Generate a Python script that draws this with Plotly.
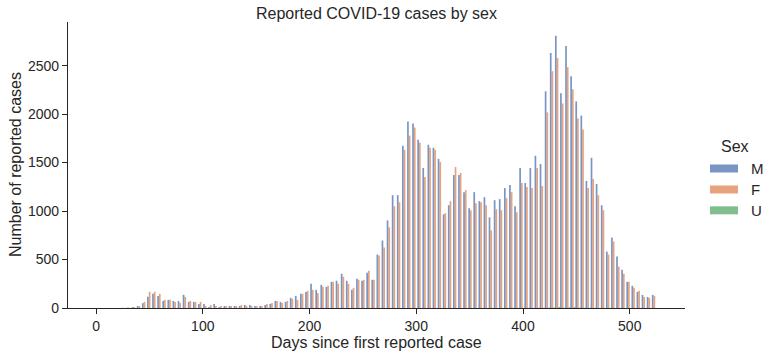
import plotly.graph_objects as go

# ---- data (histogram counts per bin, 110 bins over days 0..525.5) ----
day_max = 525.5
n_bins = 110

male_counts = [
    0, 0, 0, 0, 1, 2, 4, 10, 20, 50,
    115, 146, 125, 73, 84, 73, 73, 136, 63, 63,
    42, 42, 10, 42, 10, 21, 21, 21, 21, 31,
    31, 21, 21, 31, 42, 73, 63, 63, 104, 125,
    146, 166, 250, 187, 239, 218, 270, 281, 353, 281,
    187, 301, 281, 364, 291, 551, 696, 904, 1164, 1164,
    1674, 1923, 1902, 1736, 1445, 1684, 1653, 1538, 967, 1060,
    1372, 1372, 1195, 1029, 1195, 1102, 1143, 935, 1112, 1123,
    1237, 1268, 1050, 1445, 1289, 1445, 1570, 1486, 2235, 2630,
    2807, 2214, 2703, 2391, 2131, 1985, 1310, 1549, 1279, 1060,
    582, 728, 530, 395, 270, 229, 166, 135, 114, 135,
]

female_counts = [
    0, 0, 0, 0, 0, 1, 3, 10, 20, 64,
    167, 167, 146, 84, 84, 63, 52, 115, 73, 63,
    63, 21, 31, 21, 21, 21, 21, 21, 31, 21,
    21, 21, 21, 42, 52, 73, 52, 73, 94, 83,
    146, 177, 187, 156, 218, 229, 270, 250, 322, 250,
    208, 291, 291, 385, 291, 541, 624, 832, 1050, 1091,
    1632, 1778, 1861, 1705, 1351, 1653, 1632, 1507, 977, 1102,
    1455, 1393, 1216, 1008, 1081, 1091, 1060, 800, 1019, 1008,
    1133, 1195, 988, 1289, 1247, 1237, 1445, 1258, 2017, 2443,
    2578, 2110, 2484, 2256, 1954, 1840, 1237, 1331, 1164, 1008,
    551, 686, 426, 353, 270, 208, 177, 114, 104, 125,
]

unknown_counts = [0] * 80 + [
    1, 1, 2, 2, 2, 1, 3, 2, 3, 5,
    10, 4, 6, 10, 4, 3, 2, 2, 1, 1,
    1, 1, 0, 0, 0, 0, 0, 0, 0, 0,
]

sexes = ["M", "F", "U"]
series = [male_counts, female_counts, unknown_counts]
colors = ["rgba(76,114,176,0.75)", "rgba(221,132,82,0.75)", "rgba(85,168,104,0.75)"]

y_ticks = [0, 500, 1000, 1500, 2000, 2500]
x_ticks = [0, 100, 200, 300, 400, 500]

bin_w = day_max / n_bins
bin_left = [k * bin_w for k in range(n_bins)]

fig = go.Figure()
for i, (name, vals, col) in enumerate(zip(sexes, series, colors)):
    fig.add_trace(go.Bar(
        x=bin_left, y=vals, name=name,
        width=bin_w / 3, offset=i * bin_w / 3,
        marker=dict(color=col, line=dict(width=0)),
        showlegend=False,
    ))

font_fam = "Liberation Sans, Arial, sans-serif"
txt = "#262626"

W, H = 773, 358
L, R, T, B = 68, 88, 22, 50
PW, PH = W - L - R, H - T - B


def fx(x):  # pixel x -> plot-domain paper fraction
    return (x - L) / PW


def fy(y):  # pixel y -> plot-domain paper fraction
    return (H - B - y) / PH


fig.update_layout(
    width=W, height=H,
    margin=dict(l=L, r=R, t=T, b=B, autoexpand=False),
    paper_bgcolor="white", plot_bgcolor="white",
    barmode="overlay",
    font=dict(family=font_fam, size=14, color=txt),
)

margin_x = day_max * 0.05
fig.update_xaxes(
    range=[-margin_x, day_max + margin_x],
    tickvals=x_ticks, ticks="outside", ticklen=5, tickwidth=1.25, tickcolor=txt,
    showline=True, linecolor=txt, linewidth=1.25,
    showgrid=False, zeroline=False, automargin=False,
    tickfont=dict(size=14, color=txt),
)
fig.update_yaxes(
    range=[0, 2950],
    tickvals=y_ticks, ticks="outside", ticklen=5, tickwidth=1.25, tickcolor=txt,
    showline=True, linecolor=txt, linewidth=1.25,
    showgrid=False, zeroline=False, automargin=False,
    tickfont=dict(size=14, color=txt),
)

# ---- titles as annotations ----
fig.add_annotation(text="Reported COVID-19 cases by sex", xref="paper", yref="paper",
                   x=fx(376.5), y=fy(13), xanchor="center", yanchor="middle",
                   showarrow=False, font=dict(size=16, color=txt))
fig.add_annotation(text="Days since first reported case", xref="paper", yref="paper",
                   x=fx(376.5), y=fy(342), xanchor="center", yanchor="middle",
                   showarrow=False, font=dict(size=16, color=txt))
fig.add_annotation(text="Number of reported cases", xref="paper", yref="paper",
                   x=fx(15), y=fy(165), xanchor="center", yanchor="middle",
                   textangle=-90, showarrow=False, font=dict(size=16, color=txt))

# ---- legend drawn manually (wide patches like matplotlib) ----
fig.add_annotation(text="Sex", xref="paper", yref="paper",
                   x=fx(735), y=fy(146.7), xanchor="center", yanchor="middle",
                   showarrow=False, font=dict(size=16, color=txt))
legend_y = [168.5, 189.5, 210.3]
for name, col, yc in zip(sexes, colors, legend_y):
    fig.add_shape(type="rect", xref="paper", yref="paper",
                  x0=fx(710), x1=fx(738), y0=fy(yc + 4), y1=fy(yc - 4),
                  fillcolor=col, line=dict(width=0))
    fig.add_annotation(text=name, xref="paper", yref="paper",
                       x=fx(749), y=fy(yc), xanchor="left", yanchor="middle",
                       showarrow=False, font=dict(size=15, color=txt))

fig.write_html("out.html", config={"displayModeBar": False})

# remove the default page margin so the figure sits at the window origin
with open("out.html", "r", encoding="utf-8") as f:
    html = f.read()
html = html.replace("<head>", "<head><style>html,body{margin:0;padding:0;overflow:hidden;}</style>", 1)
with open("out.html", "w", encoding="utf-8") as f:
    f.write(html)
